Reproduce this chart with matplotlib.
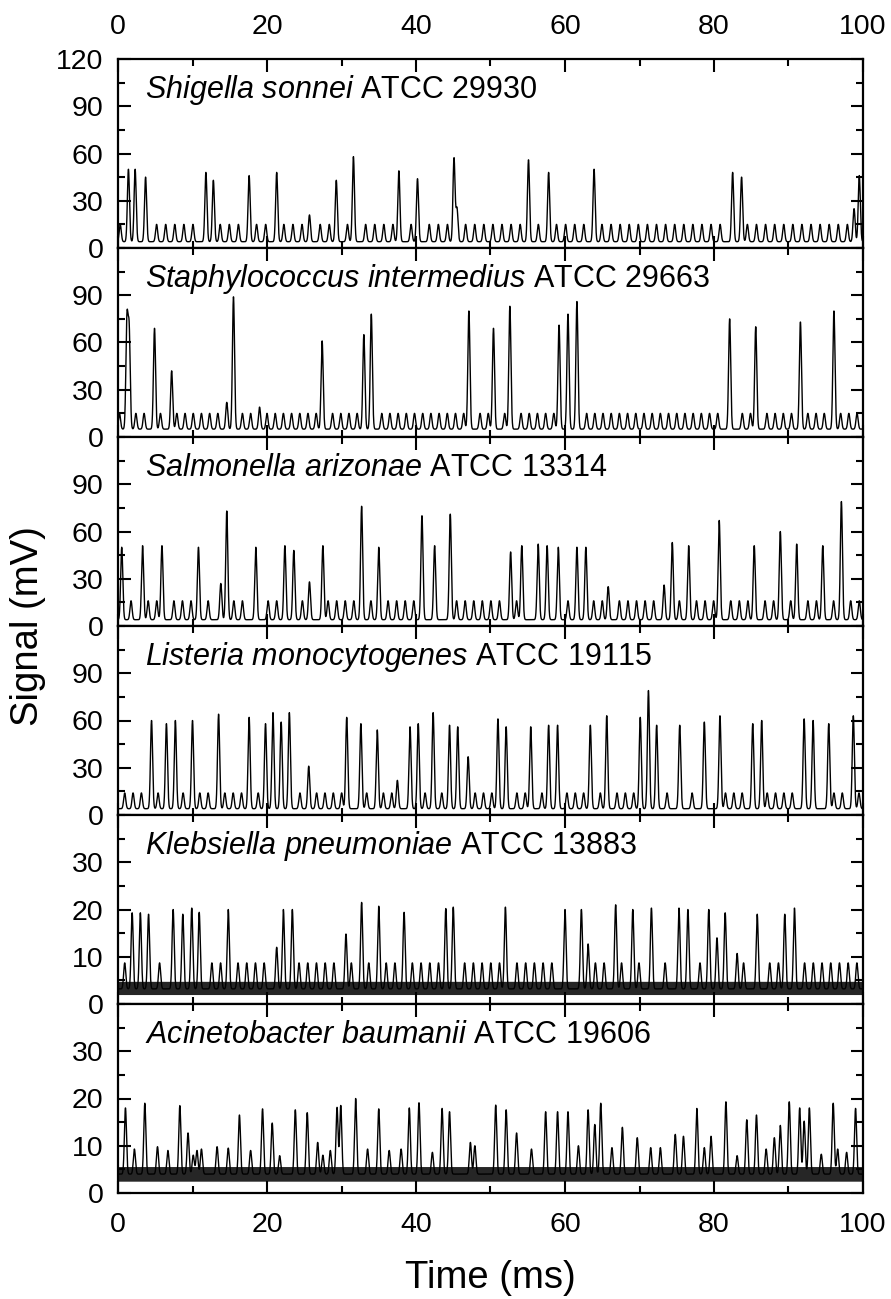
import numpy as np
import matplotlib

matplotlib.use("Agg")
import matplotlib.pyplot as plt
from matplotlib.ticker import MultipleLocator

plt.rcParams["font.family"] = ["Liberation Sans", "DejaVu Sans"]
plt.rcParams["mathtext.fontset"] = "custom"
plt.rcParams["mathtext.rm"] = "Liberation Sans"
plt.rcParams["mathtext.it"] = "Liberation Sans:italic"

# panel labels (species, strain)
SPECIES = [
    "Shigella sonnei",
    "Staphylococcus intermedius",
    "Salmonella arizonae",
    "Listeria monocytogenes",
    "Klebsiella pneumoniae",
    "Acinetobacter baumanii",
]
STRAINS = ["ATCC 29930", "ATCC 29663", "ATCC 13314", "ATCC 19115", "ATCC 13883", "ATCC 19606"]

# y range of each panel and its labelled ticks
Y_MAX = [120, 120, 120, 120, 40, 40]
Y_MAJOR = [30, 30, 30, 30, 10, 10]
Y_LABELLED = [
    [0, 30, 60, 90, 120],
    [0, 30, 60, 90],
    [0, 30, 60, 90],
    [0, 30, 60, 90],
    [0, 10, 20, 30],
    [0, 10, 20, 30],
]

# droplet background: baseline (mV), small-peak top (mV), spacing (ms), first peak (ms)
BASELINE = [4.0, 5.0, 4.0, 4.0, 3.2, 4.0]
SMALL_TOP = [15.0, 15.0, 16.0, 14.0, 8.7, 0.0]
SMALL_PERIOD = [1.22, 1.10, 1.15, 1.12, 1.17, 1.0]
SMALL_PHASE = [0.3, 0.2, 0.6, 0.9, 0.9, 0.0]
NOISE_BAND = [None, None, None, None, (2.0, 4.8), (2.5, 5.6)]

# read-off peaks: (time ms, height mV)
SHIGELLA_PEAKS = [
    (1.4, 50), (2.3, 50), (3.7, 45), (11.8, 48), (12.8, 43), (17.6, 46),
    (21.3, 48), (25.7, 21), (29.3, 43), (31.6, 58), (37.7, 49), (40.2, 44),
    (45.1, 57), (45.5, 25), (55.1, 56), (57.8, 48), (63.9, 50), (82.5, 48),
    (83.7, 45), (98.8, 25), (99.5, 46),
]
STAPH_PEAKS = [
    (1.2, 73), (1.5, 66), (4.9, 69), (7.2, 42), (14.6, 22), (15.5, 89),
    (19.0, 19), (27.4, 61), (33.0, 65), (34.0, 78), (47.1, 80), (50.4, 69),
    (52.6, 83), (59.2, 71), (60.4, 78), (61.6, 86), (82.1, 75), (85.6, 70),
    (91.6, 73), (96.1, 80),
]
SALMONELLA_PEAKS = [
    (0.5, 50), (3.3, 51), (5.9, 51), (10.8, 50), (13.8, 27), (14.6, 73),
    (18.5, 50), (22.4, 51), (23.6, 48), (25.7, 28), (27.5, 51), (32.7, 76),
    (35.0, 50), (40.8, 70), (42.5, 51), (44.6, 71), (52.7, 47), (54.2, 51),
    (56.4, 52), (57.6, 51), (59.1, 50), (61.6, 50), (62.8, 50), (65.8, 25),
    (73.3, 26), (74.4, 53), (76.6, 51), (80.7, 67), (85.4, 51), (88.9, 60),
    (91.1, 52), (94.6, 51), (97.1, 79),
]
LISTERIA_PEAKS = [
    (4.5, 60), (6.5, 58), (7.7, 60), (10.0, 60), (13.5, 64), (17.6, 62),
    (19.8, 58), (20.8, 65), (21.9, 59), (23.0, 65), (25.6, 31), (30.7, 62),
    (32.6, 58), (34.8, 54), (37.5, 22), (39.2, 56), (40.3, 58), (42.3, 65),
    (44.5, 57), (45.6, 56), (47.0, 37), (51.0, 61), (52.1, 56), (55.4, 56),
    (57.8, 57), (59.0, 57), (63.4, 57), (65.6, 63), (70.1, 62), (71.2, 79),
    (72.3, 57), (75.4, 57), (78.7, 59), (80.8, 63), (85.2, 58), (86.4, 60),
    (92.1, 61), (93.3, 60), (95.4, 58), (98.7, 63),
]
KLEBSIELLA_PEAKS = [
    (1.9, 19.3), (3.0, 19.3), (4.1, 19.0), (7.4, 20.0), (8.7, 19.0),
    (9.9, 20.3), (10.9, 19.4), (14.8, 20.0), (21.3, 12.0), (22.2, 20.0),
    (23.4, 20.0), (30.6, 14.8), (32.7, 21.5), (35.0, 20.7), (38.4, 19.4),
    (44.0, 20.2), (45.0, 20.5), (52.0, 20.5), (60.0, 20.0), (62.2, 20.0),
    (63.1, 12.7), (66.8, 21.0), (69.1, 20.0), (71.6, 20.3), (75.3, 20.3),
    (76.5, 20.0), (79.3, 20.0), (80.4, 14.0), (81.5, 19.3), (83.1, 10.7),
    (85.8, 19.0), (89.5, 19.0), (90.8, 20.3),
]
ACINETOBACTER_PEAKS = [
    (1.0, 18), (2.2, 9.3), (3.6, 19), (5.3, 9.8), (6.7, 9), (8.3, 18.5),
    (9.4, 12.7), (10.1, 8), (10.6, 9), (11.2, 9.3), (13.3, 9.8), (14.8, 9.5),
    (16.3, 16.5), (17.8, 9), (19.4, 17.8), (20.7, 14.8), (21.7, 7.9),
    (23.8, 17.6), (25.4, 17), (26.8, 10.7), (27.5, 8), (28.5, 9),
    (29.4, 18.1), (29.9, 18.5), (31.9, 20), (33.5, 9.3), (35.0, 17.8),
    (36.4, 9), (38.0, 9.3), (39.1, 18), (40.4, 19.1), (42.2, 8.6),
    (43.5, 17.9), (44.5, 17.2), (47.3, 10.7), (47.9, 10), (50.7, 18.6),
    (52.1, 17.6), (53.5, 12.7), (55.5, 9.3), (57.4, 17.2), (59.0, 17.2),
    (60.4, 17.2), (61.8, 10), (63.1, 17.6), (64.0, 14.5), (64.8, 19),
    (66.3, 9.6), (67.7, 13.9), (69.7, 11.7), (71.5, 9.6), (72.8, 9.6),
    (74.8, 12.4), (75.9, 12), (77.7, 17.9), (78.7, 9.6), (79.6, 12),
    (81.6, 19.3), (83.1, 7.9), (84.4, 15.5), (85.7, 16.5), (87.0, 9.3),
    (88.1, 11.7), (88.9, 14.3), (90.1, 19.3), (91.5, 18), (92.1, 15.2),
    (92.8, 18), (94.4, 8.2), (96.0, 19), (96.6, 9.3), (97.8, 8.6), (99.0, 17.9),
]
PANEL_PEAKS = [
    SHIGELLA_PEAKS, STAPH_PEAKS, SALMONELLA_PEAKS,
    LISTERIA_PEAKS, KLEBSIELLA_PEAKS, ACINETOBACTER_PEAKS,
]

PEAK_SIGMA = 0.14  # ms


def build_trace(t, base, small_top, period, phase, peaks):
    y = np.full_like(t, base)
    peak_t = np.array([p[0] for p in peaks])
    peak_h = np.array([p[1] for p in peaks])
    if small_top > 0:
        slots = np.arange(phase, t[-1] + period, period)
        for s in slots:
            if np.min(np.abs(peak_t - s)) < 0.6 * period:
                continue
            y += (small_top - base) * np.exp(-0.5 * ((t - s) / PEAK_SIGMA) ** 2)
    for pt, ph in zip(peak_t, peak_h):
        y += (ph - base) * np.exp(-0.5 * ((t - pt) / PEAK_SIGMA) ** 2)
    return y


def main():
    t = np.linspace(0, 100, 20001)
    fig = plt.figure(figsize=(8.91, 12.99), dpi=100)
    W, H = 891.0, 1299.0
    left, right, top, panel_h = 118, 863, 59, 189

    for i in range(6):
        y0 = top + panel_h * (i + 1)
        ax = fig.add_axes([left / W, 1 - y0 / H, (right - left) / W, panel_h / H])

        band = NOISE_BAND[i]
        if band is not None:
            ax.fill_between(t, band[0], band[1], color="black", alpha=0.85, linewidth=0)
        y = build_trace(t, BASELINE[i], SMALL_TOP[i], SMALL_PERIOD[i], SMALL_PHASE[i], PANEL_PEAKS[i])
        ax.plot(t, y, color="black", linewidth=1.0)

        ax.set_xlim(0, 100)
        ax.set_ylim(0, Y_MAX[i])
        ax.set_xticks([0, 20, 40, 60, 80, 100])
        ax.xaxis.set_minor_locator(MultipleLocator(10))
        ax.set_yticks(Y_LABELLED[i])
        ax.yaxis.set_minor_locator(MultipleLocator(Y_MAJOR[i] / 2))
        ax.tick_params(which="both", direction="in", top=True, right=True,
                       width=1.5, labelsize=20.5,
                       labelbottom=(i == 5), labeltop=(i == 0))
        ax.tick_params(which="major", length=9)
        ax.tick_params(which="minor", length=5)
        ax.tick_params(axis="y", pad=10.5)
        ax.tick_params(axis="x", pad=14)
        for sp in ax.spines.values():
            sp.set_linewidth(1.6)

        words = SPECIES[i].split()
        label = r"$\it{" + r"\ ".join(words) + "}$ " + STRAINS[i]
        ax.text(0.036, 0.795, label, transform=ax.transAxes, fontsize=22,
                ha="left", va="baseline")

    fig.text(28 / W, 1 - 626 / H, "Signal (mV)", rotation=90, fontsize=27.5,
             ha="center", va="center")
    fig.text(490 / W, 1 - 1278 / H, "Time (ms)", fontsize=27.5,
             ha="center", va="center")

    fig.savefig("out.png", dpi=100)
    plt.close(fig)


if __name__ == "__main__":
    main()
